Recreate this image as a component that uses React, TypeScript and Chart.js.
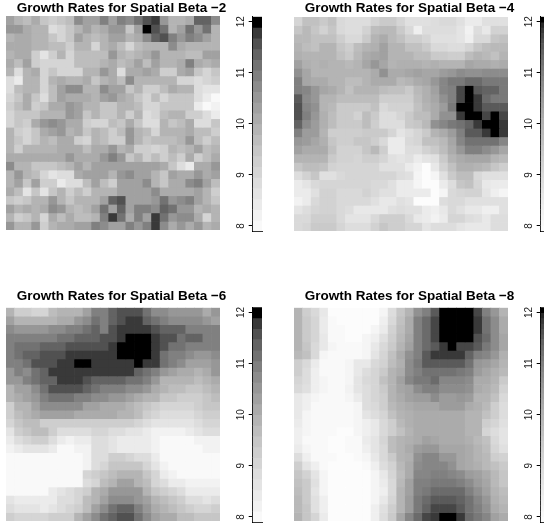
import React, { useEffect, useRef } from "react";
import { Chart, registerables } from "chart.js";

Chart.register(...registerables);

const RANGE_MIN = 7.9;
const RANGE_MAX = 12.1;
const colorbarTicks = [8, 9, 10, 11, 12];
const columns = Array.from({ length: 25 }, (_, i) => String(i + 1));

const betaMinus2 = [
  [10.4,10.0,9.6,10.2,9.5,9.2,9.5,9.6,10.7,10.3,10.3,10.9,10.4,10.9,10.7,11.2,11.6,11.7,10.5,10.0,10.0,10.2,11.3,11.3,10.7],
  [10.6,10.6,10.1,9.9,9.8,8.9,9.0,9.4,10.0,10.3,9.8,10.2,10.5,10.5,9.5,10.3,12.0,11.5,11.1,9.9,10.3,11.2,10.6,11.1,9.9],
  [9.9,10.2,10.2,9.8,9.8,9.5,9.0,9.4,10.3,10.0,9.6,9.9,10.4,10.3,9.9,10.1,10.7,11.3,11.5,11.0,10.5,11.0,10.7,10.3,10.0],
  [10.1,10.1,10.1,9.8,10.0,9.6,9.6,9.2,9.8,9.8,9.1,9.9,10.1,9.7,9.0,9.7,10.0,10.0,10.0,10.8,10.2,9.9,9.8,9.8,10.0],
  [9.8,10.1,10.1,9.2,8.7,9.3,9.8,9.1,9.6,9.6,9.6,9.6,10.5,10.0,9.6,10.0,10.1,10.5,10.0,10.0,10.0,9.7,9.7,10.3,10.3],
  [10.1,9.6,10.3,9.3,9.0,9.0,9.0,9.0,9.6,9.6,9.6,9.8,10.1,9.6,9.9,10.3,9.6,10.3,10.0,10.0,10.2,11.0,10.2,9.8,10.1],
  [9.9,8.8,9.8,10.1,9.1,9.5,9.0,9.0,9.0,10.0,9.9,10.5,10.2,8.9,10.2,10.2,10.4,10.1,9.3,9.3,10.1,10.4,9.5,9.1,9.5],
  [8.9,8.5,9.9,9.9,9.0,9.9,10.2,9.8,9.8,10.2,9.5,10.0,10.2,9.7,10.8,9.8,9.8,10.0,9.9,9.9,9.1,9.1,8.8,9.1,9.2],
  [8.8,9.6,9.8,9.8,9.1,9.6,10.4,10.8,10.7,9.9,10.0,10.8,10.4,10.4,9.4,10.0,9.2,9.2,9.7,10.2,10.0,10.0,8.9,8.6,8.6],
  [9.1,9.5,10.1,9.4,8.9,9.7,10.3,10.2,10.1,10.2,9.8,10.3,10.5,10.1,9.8,9.4,9.1,9.7,9.1,9.4,9.4,9.4,8.9,8.5,8.0],
  [9.2,9.6,10.2,9.3,9.5,10.2,10.2,10.6,10.3,9.8,9.8,9.4,9.4,9.8,9.8,9.6,9.1,9.1,9.4,9.4,9.4,9.4,8.5,8.1,8.2],
  [9.1,9.5,9.5,9.5,10.0,10.0,9.9,10.6,10.4,9.4,10.0,9.5,9.5,9.8,9.3,9.8,8.8,9.0,9.6,10.0,10.0,9.2,9.2,8.8,8.4],
  [9.0,9.4,9.3,10.2,10.6,10.7,10.5,10.2,10.2,9.3,9.0,9.1,9.7,9.5,10.2,9.4,8.9,8.9,9.8,9.4,9.6,10.1,8.9,8.9,9.4],
  [9.8,9.3,9.1,9.4,10.1,10.4,10.5,10.0,10.1,9.5,9.9,9.7,9.2,9.7,10.6,9.8,9.7,9.0,10.0,10.0,10.0,10.1,9.6,9.6,9.3],
  [9.8,9.5,9.1,9.4,9.9,9.6,10.1,10.1,9.3,9.0,10.0,9.7,9.3,9.3,10.5,10.0,9.4,9.6,9.6,9.6,10.0,10.5,9.6,9.3,9.6],
  [9.9,9.2,10.0,10.0,9.9,9.9,10.1,10.1,10.1,9.7,10.1,10.2,10.5,10.0,10.1,9.3,9.3,9.1,9.3,10.0,9.6,10.0,10.3,9.6,10.0],
  [10.1,10.1,10.1,10.1,10.1,10.1,10.1,10.6,10.2,10.2,10.2,10.6,11.0,10.6,9.5,9.9,9.3,9.6,9.3,9.7,9.3,10.1,9.3,9.7,10.1],
  [10.8,10.0,10.0,9.4,9.4,9.4,9.6,9.8,10.3,10.0,10.4,10.4,10.4,10.4,10.4,10.3,10.4,10.4,10.1,9.5,8.9,8.5,10.1,10.1,10.6],
  [10.0,10.5,10.0,9.7,9.0,8.6,8.8,8.8,10.2,10.4,10.4,10.4,9.8,10.5,10.8,10.4,10.4,9.8,9.5,10.3,10.1,10.1,10.6,10.1,10.4],
  [9.8,10.3,9.4,10.3,9.3,9.2,8.5,8.8,8.8,9.7,10.3,9.7,9.3,10.4,10.4,10.4,10.7,9.8,9.5,10.2,10.2,10.8,11.0,10.4,9.6],
  [10.1,9.6,8.7,9.5,8.7,9.5,9.8,9.2,9.6,9.2,9.9,9.9,9.9,10.3,10.3,10.3,10.3,10.8,10.2,10.2,10.2,10.2,10.4,9.8,9.2],
  [9.5,9.3,9.5,10.0,10.0,10.5,9.9,9.5,10.0,10.0,9.9,10.4,11.3,11.5,10.4,10.4,10.4,10.5,11.2,10.5,10.8,11.0,10.4,9.8,9.4],
  [10.4,9.9,10.2,10.0,10.2,10.8,10.6,10.0,9.6,10.0,10.3,11.1,10.4,11.3,10.3,11.0,11.0,10.8,11.3,11.1,10.6,10.6,9.9,10.2,9.8],
  [9.9,9.2,9.4,9.9,9.1,10.2,9.6,10.2,9.7,9.7,10.0,11.0,11.8,11.1,10.2,11.0,10.3,11.7,11.1,10.5,10.7,10.7,10.2,9.1,9.9],
  [10.5,9.8,9.9,10.5,9.2,10.0,10.1,10.1,10.4,10.3,11.0,10.7,10.4,10.3,10.9,10.5,11.0,11.7,10.8,10.2,10.6,10.2,10.6,9.9,10.1],
];

const betaMinus4 = [
  [9.1,9.6,9.6,9.4,9.6,9.0,8.9,8.9,8.9,9.2,9.4,9.4,9.1,8.8,8.8,8.8,8.9,9.0,9.0,8.8,8.5,8.5,8.8,8.8,8.8],
  [9.5,9.8,9.5,9.2,9.5,9.0,8.9,8.9,9.2,9.7,9.8,9.8,9.4,9.0,8.4,8.9,8.9,8.9,8.9,8.7,8.3,8.9,8.6,9.2,9.2],
  [9.8,9.8,9.6,9.6,9.6,9.3,9.0,9.0,9.4,9.9,10.2,9.8,9.6,9.3,9.3,9.1,8.8,8.8,8.8,8.7,8.4,9.0,9.0,9.5,9.6],
  [10.0,9.7,9.6,9.9,9.9,9.5,9.3,9.7,10.0,10.1,10.4,9.9,9.9,9.6,9.6,9.4,9.0,9.0,8.9,8.9,9.1,9.5,9.7,9.8,9.8],
  [10.1,9.9,9.9,9.9,9.9,9.6,9.4,9.8,10.2,10.3,10.4,9.9,9.9,9.9,9.7,9.7,9.4,9.4,9.3,9.3,9.7,10.0,9.8,9.6,10.0],
  [10.4,10.1,9.9,10.1,10.0,10.0,9.8,9.9,10.3,10.6,10.3,10.0,10.1,10.1,10.1,10.0,10.1,9.9,10.0,10.0,10.3,10.2,10.2,10.1,10.2],
  [10.7,10.3,10.0,10.0,10.0,10.0,10.0,10.0,10.0,10.2,10.7,10.2,10.2,10.3,10.4,10.3,10.3,10.5,10.6,10.8,10.7,10.7,10.8,10.8,10.8],
  [11.0,10.3,10.2,10.2,10.0,10.0,9.7,9.7,10.0,10.2,10.2,10.2,9.8,10.0,10.2,10.3,10.6,10.9,11.1,11.1,11.3,11.3,11.1,11.1,11.1],
  [11.0,10.9,10.6,10.3,10.2,9.9,9.6,9.9,9.9,9.9,9.7,9.6,9.6,9.4,9.8,10.1,10.4,10.9,11.0,11.7,12.0,11.5,11.4,11.4,11.1],
  [11.5,10.8,10.6,10.0,10.0,9.7,9.7,9.7,9.7,9.7,9.3,9.3,9.3,9.3,9.7,10.1,10.3,10.7,11.0,11.7,12.0,11.8,11.3,11.1,11.1],
  [11.6,10.9,10.7,10.0,9.8,9.4,9.4,9.4,9.4,9.6,9.0,9.2,9.2,9.2,9.6,10.0,10.2,10.5,11.1,12.0,12.0,11.8,11.5,11.5,11.5],
  [11.6,11.0,10.6,10.1,9.7,9.4,9.4,9.2,9.7,9.4,8.9,8.9,9.1,9.4,9.7,9.7,10.2,10.7,10.7,11.8,12.0,12.0,11.7,12.0,11.7],
  [11.4,10.8,10.5,10.1,9.7,9.4,9.4,9.4,9.7,9.3,8.9,8.9,8.9,9.4,9.5,9.8,10.7,10.9,11.1,11.2,11.4,11.8,12.0,12.0,11.8],
  [11.0,10.5,10.5,9.9,9.3,9.3,9.3,9.3,9.4,9.4,9.4,9.1,8.7,8.9,9.1,9.4,10.0,10.2,10.5,11.0,11.5,11.5,11.8,12.0,11.8],
  [10.6,10.5,10.3,10.1,9.5,9.3,9.3,9.5,9.5,9.3,9.0,8.5,8.5,9.0,9.1,9.6,9.6,9.8,10.3,10.9,11.2,11.2,11.2,11.2,10.9],
  [10.4,10.2,10.2,10.2,9.6,9.2,9.2,9.2,9.5,9.8,9.3,8.5,8.5,8.9,8.9,9.2,9.4,9.7,10.2,10.6,11.0,11.0,10.8,10.6,10.3],
  [10.0,10.0,10.0,10.0,9.4,9.2,9.2,9.1,9.3,9.3,9.1,8.8,8.7,8.8,8.5,8.7,8.8,9.4,9.9,10.2,10.3,10.3,10.3,10.0,9.8],
  [9.5,9.7,9.7,9.6,9.2,9.1,9.1,9.1,9.1,9.1,8.8,8.8,8.8,8.5,8.3,8.0,8.6,9.2,9.6,10.1,10.1,10.0,9.8,9.5,9.3],
  [8.9,9.2,9.5,8.8,8.8,9.0,9.1,9.1,9.1,9.1,9.1,9.1,8.9,8.8,8.2,7.95,8.2,8.8,9.4,9.7,9.7,9.0,8.8,8.8,8.8],
  [8.5,8.7,9.0,9.1,9.1,9.1,9.1,9.1,9.1,9.0,9.0,8.8,8.5,8.5,8.2,7.95,7.95,8.5,8.9,9.5,9.6,9.1,8.6,8.5,8.5],
  [8.5,8.5,8.8,9.2,9.2,9.0,9.0,9.0,9.2,9.0,8.8,8.8,8.5,8.5,8.5,8.5,8.0,8.2,9.0,9.1,9.2,9.2,8.7,8.4,8.2],
  [8.3,8.5,9.0,9.2,9.2,9.0,9.0,9.0,9.0,8.8,8.6,8.6,8.8,8.7,8.0,8.0,8.0,8.9,9.0,9.0,8.8,8.8,8.8,8.8,8.8],
  [8.7,8.9,9.1,9.2,9.2,9.0,8.9,8.6,8.6,8.6,8.6,8.8,8.9,8.8,8.8,8.5,8.4,8.6,9.0,8.8,8.6,8.6,8.4,8.4,8.8],
  [9.0,9.0,9.3,9.3,9.3,9.0,8.7,8.7,8.7,9.0,9.3,9.3,9.3,9.0,8.6,8.5,8.3,8.5,9.1,9.1,8.9,8.8,8.6,8.9,8.9],
  [9.0,9.1,9.4,9.4,9.4,9.1,8.9,8.9,8.9,9.2,9.5,9.3,9.3,9.1,9.1,8.7,8.9,8.9,8.9,8.7,8.6,8.6,8.6,8.9,8.9],
];

const betaMinus6 = [
  [9.8,9.3,9.3,9.1,9.1,9.6,9.8,9.8,10.0,10.3,10.9,10.9,11.4,11.6,11.6,11.6,11.2,10.8,10.7,10.5,10.5,10.5,10.5,10.2,10.5],
  [10.3,9.9,9.9,9.9,9.9,9.9,10.2,10.2,10.5,10.7,11.1,11.0,11.3,11.6,11.8,11.8,11.4,11.2,11.0,10.8,10.7,10.7,10.7,10.5,10.3],
  [10.8,10.5,10.5,10.5,10.5,10.8,10.8,10.9,11.0,11.1,11.3,11.0,11.6,11.8,11.8,11.8,11.8,11.5,11.3,11.3,11.3,11.0,11.0,11.0,10.9],
  [11.0,11.0,11.0,11.0,11.0,11.0,11.2,11.2,11.4,11.4,11.4,11.5,11.5,11.8,12.0,12.0,12.0,11.8,11.5,11.5,11.2,11.4,11.4,11.0,11.0],
  [11.0,11.1,11.2,11.2,11.3,11.3,11.3,11.5,11.5,11.5,11.5,11.5,11.8,12.0,12.0,12.0,12.0,11.8,11.5,11.2,11.2,11.0,11.0,10.9,10.9],
  [11.0,11.1,11.3,11.3,11.5,11.5,11.5,11.7,11.7,11.8,11.8,11.8,11.8,12.0,12.0,12.0,12.0,11.8,11.1,10.9,10.9,10.7,10.5,10.5,10.8],
  [11.0,11.0,11.1,11.5,11.5,11.5,11.7,11.7,12.0,12.0,11.7,11.7,11.7,11.7,11.7,12.0,11.8,11.8,11.1,10.9,10.7,10.3,10.3,10.3,10.6],
  [10.6,10.9,10.8,11.1,11.4,11.7,11.7,11.7,11.7,11.7,11.7,11.7,11.7,11.7,11.7,11.4,11.2,10.9,10.5,10.4,10.2,10.1,9.8,10.2,10.5],
  [10.5,10.6,10.9,11.1,11.3,11.4,11.7,11.7,11.7,11.5,11.3,11.3,11.3,11.3,11.2,11.2,11.0,10.5,10.0,10.0,10.0,9.8,9.7,9.8,10.1],
  [10.0,10.3,10.4,10.7,11.2,11.5,11.5,11.5,11.5,11.3,11.2,11.0,11.0,11.0,10.8,10.8,10.5,10.1,9.8,9.7,9.7,9.4,9.4,9.7,9.8],
  [9.8,10.1,10.3,10.5,11.0,11.2,11.2,11.2,11.0,11.0,10.8,10.8,10.5,10.5,10.3,10.1,10.0,9.8,9.4,9.4,9.3,9.3,9.3,9.5,9.6],
  [9.3,9.8,10.0,10.3,10.7,10.7,10.7,10.7,10.7,10.4,10.4,10.2,10.2,10.1,9.8,9.6,9.4,9.3,9.1,9.1,9.1,9.0,9.3,9.4,9.4],
  [9.3,9.6,9.8,10.1,10.3,10.3,10.3,10.3,10.1,10.1,10.1,10.1,10.1,10.0,9.8,9.6,9.3,9.1,8.9,8.9,8.8,8.8,9.1,9.3,9.3],
  [9.0,9.5,9.7,9.6,9.3,9.3,9.3,9.3,9.2,9.2,9.2,9.2,9.2,9.2,9.2,9.1,8.9,8.7,8.7,8.7,8.6,8.6,8.9,9.0,9.0],
  [8.6,9.3,9.5,9.7,9.7,9.3,8.9,8.9,8.9,8.9,9.1,9.1,8.9,8.8,8.6,8.6,8.4,8.3,8.3,8.2,8.2,8.4,8.6,8.9,8.9],
  [8.5,8.9,9.0,9.2,9.2,8.8,8.4,8.2,8.4,8.4,8.8,8.8,8.6,8.5,8.5,8.5,8.4,8.3,8.0,8.0,8.0,8.1,8.2,8.3,8.3],
  [8.2,8.5,8.6,8.7,8.7,8.4,8.1,8.0,8.2,8.3,8.8,8.8,8.6,8.5,8.5,8.5,8.5,8.3,7.95,7.95,7.95,7.95,8.0,8.2,8.2],
  [8.0,8.1,8.1,8.1,8.1,8.05,7.95,7.95,8.1,8.3,8.9,8.9,9.2,9.2,9.0,8.8,8.8,8.4,8.1,7.95,7.95,7.95,7.95,8.0,8.1],
  [8.0,8.0,8.05,8.0,8.0,7.95,7.95,7.95,8.1,8.3,8.8,9.1,9.4,9.5,9.5,9.4,9.0,8.6,8.2,8.1,8.05,7.95,7.95,7.95,8.0],
  [8.05,7.95,7.95,7.95,7.95,7.95,7.95,8.0,8.1,9.0,9.2,9.4,9.7,9.9,9.9,9.8,9.4,9.0,8.5,8.2,8.1,8.0,8.0,8.0,8.1],
  [8.1,8.0,7.95,7.95,7.95,7.95,8.0,8.05,8.1,8.9,9.1,9.7,9.9,10.3,10.3,10.0,9.6,9.1,8.9,8.5,8.4,8.2,8.2,8.2,8.2],
  [8.1,8.1,8.1,8.1,8.1,8.4,8.6,8.9,9.1,9.3,9.8,10.1,10.5,10.5,10.5,10.5,10.0,9.4,9.3,9.0,8.8,8.5,8.4,8.4,8.4],
  [8.6,8.4,8.4,8.4,8.4,8.5,8.9,8.9,9.1,9.6,9.9,10.4,10.7,10.8,10.8,10.6,10.3,9.9,9.6,9.4,9.2,8.9,8.9,8.6,8.9],
  [8.9,8.7,8.6,8.6,8.5,8.6,8.8,9.1,9.3,9.7,10.3,10.7,11.1,11.3,11.3,11.0,10.6,10.1,9.8,9.6,9.4,9.2,9.1,9.0,9.3],
  [9.3,9.1,9.1,9.0,9.0,9.2,9.3,9.3,9.8,10.4,10.7,11.1,11.3,11.5,11.5,11.2,10.7,10.3,10.2,10.2,9.7,9.7,9.4,9.4,9.4],
];

const betaMinus8 = [
  [9.9,9.3,9.0,8.6,8.0,7.95,7.95,7.95,7.95,7.95,8.2,8.9,9.5,10.0,10.7,11.0,11.5,12.0,12.0,12.0,12.0,11.7,11.0,10.6,10.0],
  [10.0,9.4,9.1,8.5,8.1,8.0,7.95,7.95,7.95,8.0,8.4,9.0,9.6,10.2,11.0,11.3,11.7,12.0,12.0,12.0,12.0,11.8,11.2,10.8,10.2],
  [10.0,9.4,9.1,8.5,8.1,8.05,8.0,8.0,8.0,8.2,8.5,9.2,9.7,10.2,11.0,11.3,11.7,12.0,12.0,12.0,12.0,11.8,11.2,10.8,10.2],
  [10.0,9.4,9.1,8.6,8.1,8.05,8.0,8.0,8.2,8.4,8.8,9.3,9.8,10.3,11.0,11.3,11.7,12.0,12.0,12.0,12.0,11.6,11.3,10.8,10.3],
  [10.0,9.5,9.0,8.6,8.2,8.1,8.1,8.1,8.2,8.6,9.0,9.4,9.9,10.4,11.0,11.3,11.5,11.8,12.0,11.7,11.7,11.5,11.1,10.8,10.3],
  [9.8,9.6,9.0,8.2,8.1,8.1,8.1,8.1,8.2,8.7,9.1,9.6,10.2,10.7,11.0,11.5,11.8,11.8,11.8,11.8,11.4,11.0,10.9,10.6,10.1],
  [9.3,9.0,8.5,8.1,8.1,8.1,8.2,8.6,8.6,9.0,9.2,9.7,10.1,10.8,11.1,11.5,11.5,11.5,11.5,11.5,11.2,10.6,10.5,10.3,9.9],
  [9.3,8.9,8.4,8.1,8.1,8.1,8.2,8.6,8.9,9.1,9.4,9.9,10.2,10.8,11.0,11.2,11.2,11.2,11.2,11.1,11.0,10.5,10.3,10.1,9.8],
  [9.1,8.9,8.4,8.2,8.1,8.1,8.2,8.7,9.0,9.1,9.6,10.0,10.4,10.9,11.1,11.1,11.3,10.9,10.9,10.9,10.8,10.2,10.2,10.0,9.4],
  [9.0,8.8,8.4,8.2,8.1,8.1,8.3,8.7,8.9,9.1,9.4,9.9,10.3,10.4,10.8,11.0,11.0,10.8,10.8,10.8,10.7,10.2,10.1,9.8,9.2],
  [8.6,8.4,8.2,8.1,8.1,8.1,8.2,8.5,8.9,9.1,9.3,9.9,10.2,10.4,10.5,10.5,10.8,10.5,10.5,10.6,10.5,10.0,9.9,9.6,9.0],
  [8.6,8.4,8.1,8.1,8.1,8.1,8.1,8.2,8.9,9.0,9.3,9.8,10.1,10.2,10.3,10.3,10.3,10.5,10.5,10.5,10.2,10.1,9.8,9.3,8.9],
  [8.6,8.2,8.1,8.1,8.1,8.1,8.1,8.2,8.7,8.9,9.1,9.6,9.9,10.1,10.2,10.2,10.2,10.2,10.2,10.2,10.0,10.0,9.6,9.3,8.9],
  [8.5,8.2,8.1,8.1,8.1,8.05,8.05,8.2,8.4,8.6,9.0,9.3,9.8,10.1,10.2,10.2,10.2,10.2,10.2,10.2,10.0,9.9,9.3,9.1,8.8],
  [8.4,8.2,8.1,8.1,8.05,8.0,8.0,8.2,8.4,8.6,9.0,9.3,9.6,10.0,10.2,10.2,10.2,10.2,10.2,10.2,10.0,9.9,9.1,8.9,8.7],
  [8.4,8.1,8.1,8.1,8.0,8.0,8.05,8.1,8.5,8.7,9.1,9.7,9.9,10.1,10.2,10.4,10.3,10.2,10.2,10.2,10.1,9.8,9.6,9.0,8.7],
  [8.5,8.2,8.1,8.1,8.0,8.0,8.05,8.1,8.4,8.7,9.0,9.7,10.0,10.2,10.5,10.6,10.6,10.3,10.3,10.3,10.2,9.9,9.7,9.1,8.8],
  [8.9,8.4,8.1,8.05,8.05,8.0,8.0,8.05,8.2,8.6,9.0,9.4,9.9,10.1,10.7,10.9,10.9,10.6,10.6,10.3,10.2,10.0,9.8,9.3,9.2],
  [9.3,8.7,8.4,8.1,8.0,7.95,7.95,7.95,8.1,8.4,8.9,9.2,9.8,10.2,10.8,10.9,10.9,10.9,10.7,10.3,10.2,10.1,9.8,9.6,9.4],
  [9.5,9.2,8.7,8.2,8.0,7.95,7.95,8.0,8.0,8.2,8.6,9.1,9.7,10.2,10.9,10.9,11.0,11.0,10.9,10.8,10.5,10.4,10.2,9.8,9.5],
  [9.6,9.4,8.8,8.2,7.95,7.95,7.95,7.95,8.0,8.2,8.5,9.0,9.8,10.4,11.0,11.0,11.1,11.1,11.1,11.0,10.8,10.5,10.3,9.8,9.5],
  [9.7,9.4,8.7,8.2,7.95,7.95,7.95,7.95,7.95,8.2,8.4,9.0,9.9,10.4,11.0,11.1,11.3,11.3,11.3,11.3,11.0,10.7,10.4,10.0,9.7],
  [9.8,9.4,8.8,8.4,8.0,7.95,7.95,7.95,7.95,8.2,8.6,9.1,10.0,10.5,11.1,11.3,11.5,11.5,11.5,11.4,11.2,10.9,10.6,10.1,9.8],
  [9.8,9.5,8.8,8.4,8.0,7.95,7.95,7.95,8.0,8.4,8.8,9.3,10.0,10.5,11.1,11.4,11.7,11.7,11.7,11.5,11.2,11.0,10.7,10.2,10.0],
  [9.9,9.5,9.1,8.5,8.0,7.95,7.95,7.95,8.0,8.4,8.9,9.4,10.3,10.9,11.3,11.7,11.8,12.0,12.0,11.8,11.3,11.1,10.9,10.4,10.2],
];

const panelTitles = [
  "Growth Rates for Spatial Beta \u22122",
  "Growth Rates for Spatial Beta \u22124",
  "Growth Rates for Spatial Beta \u22126",
  "Growth Rates for Spatial Beta \u22128",
];

function levelColor(v: number, n: number) {
  const i = Math.max(0, Math.min(n - 1, Math.floor(((RANGE_MAX - v) / (RANGE_MAX - RANGE_MIN)) * n)));
  const g = Math.round(255 * Math.sqrt(i / n));
  return `rgb(${g},${g},${g})`;
}

const FONT = "'Liberation Sans', Arial, sans-serif";

const PANELS = [
  { grid: betaMinus2, title: panelTitles[0], levels: 20, left: 0, top: 0, plotTop: 16, plotBottom: 230, barTop: 16.7, barBottom: 231, padT: 1.5 },
  { grid: betaMinus4, title: panelTitles[1], levels: 40, left: 288, top: 0, plotTop: 17, plotBottom: 230.5, barTop: 16.7, barBottom: 231, padT: 1.5 },
  { grid: betaMinus6, title: panelTitles[2], levels: 20, left: 0, top: 285, plotTop: 307.7, plotBottom: 521, barTop: 307.3, barBottom: 521.7, padT: 4.3 },
  { grid: betaMinus8, title: panelTitles[3], levels: 40, left: 288, top: 285, plotTop: 307.7, plotBottom: 521, barTop: 307.3, barBottom: 521.7, padT: 4.3 },
];

function makeHeatmap(canvas: HTMLCanvasElement, p: (typeof PANELS)[number]) {
  const titleBox = p.plotTop - p.top;
  return new Chart(canvas, {
    type: "bar",
    data: {
      labels: columns,
      datasets: p.grid.map((row, r) => ({
        label: `row ${r + 1}`,
        data: row.map(() => [r, r + 1]),
        backgroundColor: row.map((v) => levelColor(v, p.levels)),
        borderWidth: 0,
        barPercentage: 1,
        categoryPercentage: 1,
      })),
    } as any,
    options: {
      animation: false,
      responsive: false,
      layout: { padding: 0 },
      plugins: {
        legend: { display: false },
        tooltip: { enabled: false },
        title: {
          display: true,
          text: p.title,
          color: "#000",
          font: { family: FONT, size: 13.5, weight: "bold", lineHeight: "14px" },
          padding: { top: p.padT, bottom: titleBox - 14 - p.padT },
        },
      },
      scales: {
        x: { type: "category", stacked: true, display: false },
        y: {
          type: "linear",
          min: 0,
          max: 25,
          reverse: true,
          position: "left",
          grid: { display: false },
          border: { display: false },
          ticks: { display: false },
          afterFit: (s: any) => { s.width = 6; },
        },
        pad: {
          type: "linear",
          position: "right",
          grid: { display: false },
          border: { display: false },
          ticks: { display: false },
          afterFit: (s: any) => { s.width = 23; },
        },
      },
    } as any,
  });
}

function makeColorbar(canvas: HTMLCanvasElement, p: (typeof PANELS)[number]) {
  const n = p.levels;
  const step = (RANGE_MAX - RANGE_MIN) / n;
  const bands = Array.from({ length: n }, (_, i) => [RANGE_MAX - (i + 1) * step, RANGE_MAX - i * step]);
  return new Chart(canvas, {
    type: "bar",
    data: {
      labels: ["legend"],
      datasets: bands.map((b) => ({
        data: [b],
        backgroundColor: levelColor((b[0] + b[1]) / 2, n),
        borderWidth: 0,
        barPercentage: 1,
        categoryPercentage: 1,
      })),
    } as any,
    options: {
      animation: false,
      responsive: false,
      layout: { padding: { top: p.barTop - p.top, right: 3, bottom: 3, left: 0 } },
      plugins: { legend: { display: false }, tooltip: { enabled: false } },
      scales: {
        x: {
          type: "category",
          stacked: true,
          grid: { display: false },
          border: { display: true, color: "#333", width: 1 },
          ticks: { display: false },
          afterFit: (s: any) => { s.height = 1; },
        },
        y: {
          type: "linear",
          min: RANGE_MIN,
          max: RANGE_MAX,
          position: "left",
          afterBuildTicks: (s: any) => { s.ticks = colorbarTicks.map((value) => ({ value })); },
          grid: { display: true, drawOnChartArea: false, drawTicks: true, tickLength: 4, color: "#000", lineWidth: 1 },
          border: { display: true, color: "#000", width: 1 },
          ticks: {
            autoSkip: false,
            minRotation: 90,
            maxRotation: 90,
            crossAlign: "center",
            padding: 2,
            color: "#222",
            font: { family: FONT, size: 10 },
            callback: (v: any) => String(v),
          },
          afterFit: (s: any) => { s.width = 27.7; },
        },
      },
    } as any,
  });
}

function Panel({ p }: { p: (typeof PANELS)[number] }) {
  const heat = useRef<HTMLCanvasElement>(null);
  const bar = useRef<HTMLCanvasElement>(null);
  useEffect(() => {
    const a = makeHeatmap(heat.current!, p);
    const b = makeColorbar(bar.current!, p);
    return () => { a.destroy(); b.destroy(); };
  }, [p]);
  const heatH = Math.round(p.plotBottom - p.top);
  const barH = Math.round(p.barBottom - p.top + 8);
  return (
    <>
      <canvas ref={heat} width={243} height={heatH} style={{ position: "absolute", left: p.left, top: p.top, width: 243, height: heatH }} />
      <canvas ref={bar} width={40} height={barH} style={{ position: "absolute", left: p.left + 225, top: p.top, width: 40, height: barH }} />
    </>
  );
}

export default function App() {
  useEffect(() => { document.body.style.margin = "0"; document.body.style.background = "#fff"; }, []);
  return (
    <div style={{ position: "absolute", left: 0, top: 0, width: 544, height: 527, overflow: "hidden", background: "#fff" }}>
      {PANELS.map((p) => <Panel key={p.title} p={p} />)}
    </div>
  );
}
